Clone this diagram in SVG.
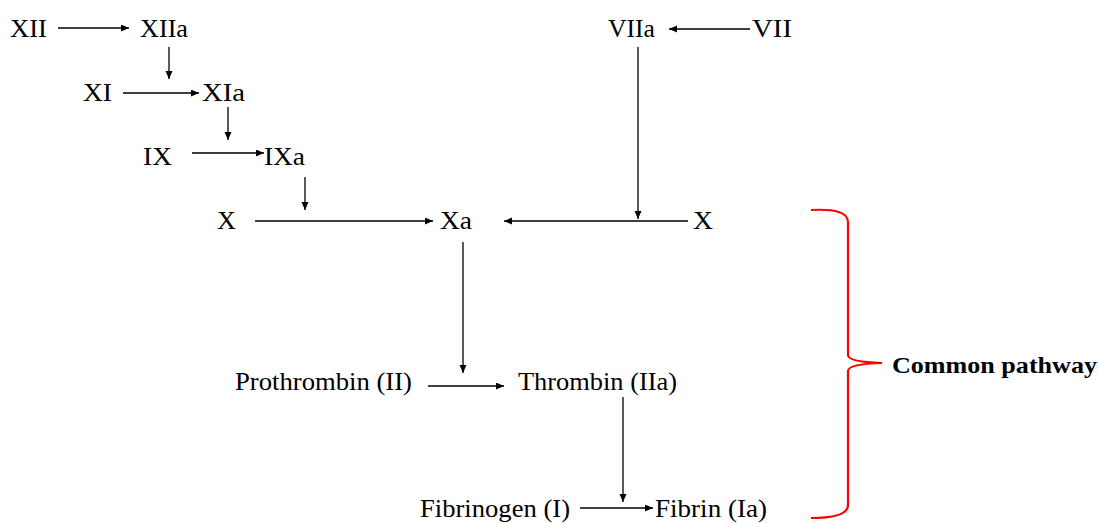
<svg xmlns="http://www.w3.org/2000/svg" width="1099" height="523" viewBox="0 0 1099 523">
<style>
text{font-family:"Liberation Serif","Times New Roman",serif;font-size:24.5px;fill:#000}
.b{font-weight:bold;font-size:24px}
.c{stroke:#000;stroke-width:1.3;fill:none;marker-end:url(#ah)}
</style>
<defs>
<marker id="ah" markerUnits="userSpaceOnUse" markerWidth="10" markerHeight="8" refX="8" refY="3.5" orient="auto">
<path d="M0,0 L8,3.5 L0,7 Z" fill="#000"/>
</marker>
</defs>
<rect width="1099" height="523" fill="#fff"/>
<g id="connectors">
<path class="c" d="M58 28H129"/>
<path class="c" d="M169 47V79"/>
<path class="c" d="M123 93H199"/>
<path class="c" d="M228 107V140"/>
<path class="c" d="M192 153H264"/>
<path class="c" d="M305 177V210"/>
<path class="c" d="M255 221H433"/>
<path class="c" d="M750 29H669"/>
<path class="c" d="M638 47V219"/>
<path class="c" d="M688 221H504"/>
<path class="c" d="M463 242V373"/>
<path class="c" d="M428 386H504"/>
<path class="c" d="M623 397V502"/>
<path class="c" d="M580 508H653"/>
</g>
<g id="n-XII"><text x="10" y="37" textLength="37" lengthAdjust="spacingAndGlyphs">XII</text></g>
<g id="n-XIIa"><text x="140" y="37" textLength="48" lengthAdjust="spacingAndGlyphs">XIIa</text></g>
<g id="n-XI"><text x="83" y="101" textLength="29" lengthAdjust="spacingAndGlyphs">XI</text></g>
<g id="n-XIa"><text x="202" y="101" textLength="43" lengthAdjust="spacingAndGlyphs">XIa</text></g>
<g id="n-IX"><text x="143" y="165" textLength="29" lengthAdjust="spacingAndGlyphs">IX</text></g>
<g id="n-IXa"><text x="264" y="165" textLength="41" lengthAdjust="spacingAndGlyphs">IXa</text></g>
<g id="n-X-left"><text x="217" y="229" textLength="19" lengthAdjust="spacingAndGlyphs">X</text></g>
<g id="n-Xa"><text x="440" y="229" textLength="32" lengthAdjust="spacingAndGlyphs">Xa</text></g>
<g id="n-X-right"><text x="693" y="229" textLength="20" lengthAdjust="spacingAndGlyphs">X</text></g>
<g id="n-VIIa"><text x="608" y="37" textLength="47" lengthAdjust="spacingAndGlyphs">VIIa</text></g>
<g id="n-VII"><text x="752" y="37" textLength="40" lengthAdjust="spacingAndGlyphs">VII</text></g>
<g id="n-prothrombin"><text x="235" y="390" textLength="177" lengthAdjust="spacingAndGlyphs">Prothrombin (II)</text></g>
<g id="n-thrombin"><text x="518" y="390" textLength="159" lengthAdjust="spacingAndGlyphs">Thrombin (IIa)</text></g>
<g id="n-fibrinogen"><text x="420" y="517" textLength="150" lengthAdjust="spacingAndGlyphs">Fibrinogen (I)</text></g>
<g id="n-fibrin"><text x="655" y="517" textLength="112" lengthAdjust="spacingAndGlyphs">Fibrin (Ia)</text></g>
<g id="common-pathway">
<path d="M811 210Q848 208 848 222V355Q848 362 882 363Q848 364 848 371V505Q848 518 811 518" fill="none" stroke="#ff0000" stroke-width="2.2"/>
<text class="b" x="892" y="373" textLength="205" lengthAdjust="spacingAndGlyphs">Common pathway</text>
</g>
</svg>
